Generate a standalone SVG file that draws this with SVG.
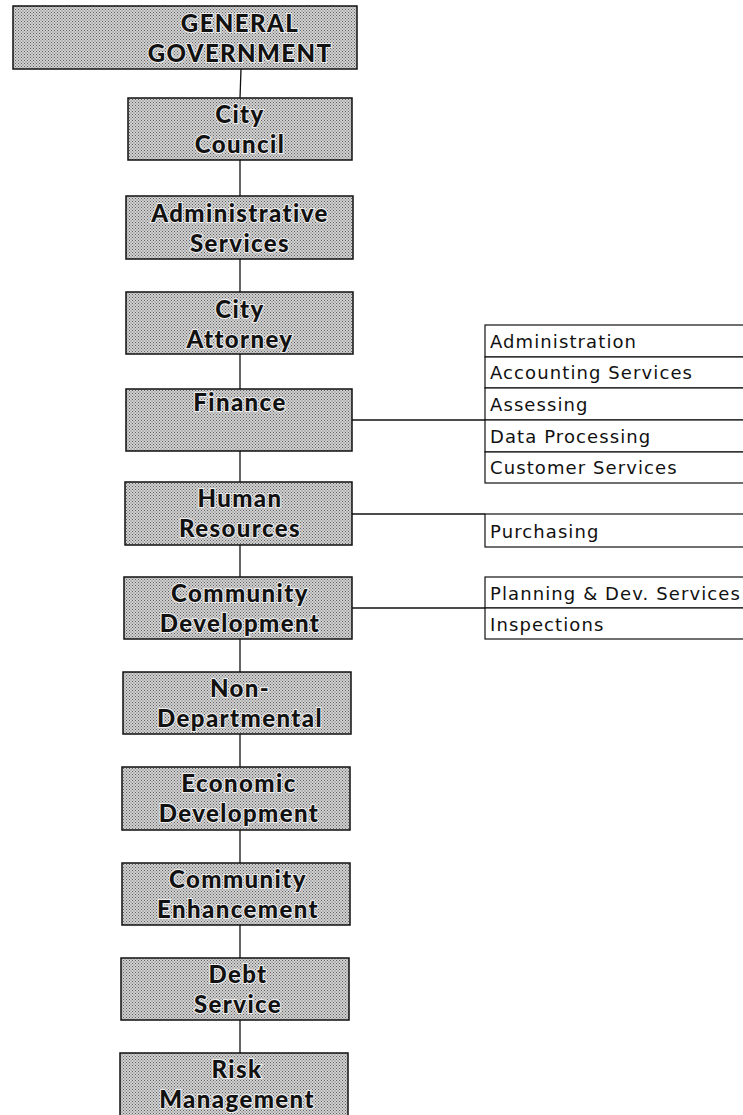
<svg xmlns="http://www.w3.org/2000/svg" width="743" height="1115" viewBox="0 0 743 1115">
  <defs>
    <!-- halftone screen used as the department box fill -->
    <pattern id="screen" width="3" height="3" patternUnits="userSpaceOnUse">
      <rect width="3" height="3" fill="#d2d2d2"/>
      <rect x="0" y="0" width="1" height="1" fill="#5e5e5e"/>
      <rect x="1.5" y="1.5" width="1" height="1" fill="#5e5e5e"/>
    </pattern>
    <style>
      .dept rect { fill: url(#screen); stroke: #111; stroke-width: 1.5; }
      .dept text { font-family: Lato, "Open Sans", sans-serif; font-weight: 900; font-size: 24px; letter-spacing: 1.4px; fill: #111; text-anchor: middle; stroke: #ececec; stroke-width: 2.2; paint-order: stroke; }
      .unit rect { fill: #fff; stroke: #111; stroke-width: 1.2; }
      .unit text { font-family: "DejaVu Sans", "Open Sans", sans-serif; font-size: 18px; letter-spacing: 1.1px; fill: #111; }
      .links line { stroke: #111; stroke-width: 1.3; }
    </style>
  </defs>
  <rect width="743" height="1115" fill="#fff"/>

  <!-- connectors -->
  <g class="links">
    <line x1="241" y1="69" x2="240" y2="98"/>
    <line x1="240" y1="160" x2="240" y2="196"/>
    <line x1="240" y1="259" x2="240" y2="292"/>
    <line x1="240" y1="354" x2="240" y2="389"/>
    <line x1="240" y1="451" x2="240" y2="482"/>
    <line x1="240" y1="545" x2="240" y2="577"/>
    <line x1="240" y1="639" x2="240" y2="672"/>
    <line x1="240" y1="734" x2="240" y2="767"/>
    <line x1="240" y1="830" x2="240" y2="863"/>
    <line x1="240" y1="925" x2="240" y2="958"/>
    <line x1="240" y1="1020" x2="240" y2="1053"/>
    <line x1="352" y1="420" x2="485" y2="420"/>
    <line x1="352" y1="514" x2="485" y2="514"/>
    <line x1="352" y1="608" x2="485" y2="608"/>
  </g>

  <g id="general-government" class="dept">
    <rect x="13" y="6" width="344" height="63"/>
    <text x="240" y="32">GENERAL</text>
    <text x="240" y="62">GOVERNMENT</text>
  </g>
  <g id="city-council" class="dept">
    <rect x="128" y="98" width="224" height="62"/>
    <text x="240" y="123">City</text>
    <text x="240" y="153">Council</text>
  </g>
  <g id="administrative-services" class="dept">
    <rect x="126" y="196" width="227" height="63"/>
    <text x="240" y="222">Administrative</text>
    <text x="240" y="252">Services</text>
  </g>
  <g id="city-attorney" class="dept">
    <rect x="126" y="292" width="227" height="62"/>
    <text x="240" y="318">City</text>
    <text x="240" y="348">Attorney</text>
  </g>
  <g id="finance" class="dept">
    <rect x="126" y="389" width="226" height="62"/>
    <text x="240" y="411">Finance</text>
  </g>
  <g id="human-resources" class="dept">
    <rect x="125" y="482" width="227" height="63"/>
    <text x="240" y="507">Human</text>
    <text x="240" y="537">Resources</text>
  </g>
  <g id="community-development" class="dept">
    <rect x="124" y="577" width="228" height="62"/>
    <text x="240" y="602">Community</text>
    <text x="240" y="632">Development</text>
  </g>
  <g id="non-departmental" class="dept">
    <rect x="123" y="672" width="228" height="62"/>
    <text x="240" y="697">Non-</text>
    <text x="240" y="727">Departmental</text>
  </g>
  <g id="economic-development" class="dept">
    <rect x="122" y="767" width="228" height="63"/>
    <text x="239" y="792">Economic</text>
    <text x="239" y="822">Development</text>
  </g>
  <g id="community-enhancement" class="dept">
    <rect x="122" y="863" width="228" height="62"/>
    <text x="238" y="888">Community</text>
    <text x="238" y="918">Enhancement</text>
  </g>
  <g id="debt-service" class="dept">
    <rect x="121" y="958" width="228" height="62"/>
    <text x="238" y="983">Debt</text>
    <text x="238" y="1013">Service</text>
  </g>
  <g id="risk-management" class="dept">
    <rect x="120" y="1053" width="228" height="70"/>
    <text x="237" y="1078">Risk</text>
    <text x="237" y="1108">Management</text>
  </g>

  <g id="finance-units" class="unit">
    <rect x="485" y="325" width="262" height="32"/>
    <rect x="485" y="357" width="262" height="31"/>
    <rect x="485" y="388" width="262" height="32"/>
    <rect x="485" y="420" width="262" height="32"/>
    <rect x="485" y="452" width="262" height="31"/>
    <text x="490" y="348">Administration</text>
    <text x="490" y="379">Accounting Services</text>
    <text x="490" y="411">Assessing</text>
    <text x="490" y="443">Data Processing</text>
    <text x="490" y="474">Customer Services</text>
  </g>
  <g id="human-resources-units" class="unit">
    <rect x="485" y="514" width="262" height="33"/>
    <text x="490" y="538">Purchasing</text>
  </g>
  <g id="community-development-units" class="unit">
    <rect x="485" y="577" width="262" height="31"/>
    <rect x="485" y="608" width="262" height="31"/>
    <text x="490" y="600">Planning &amp; Dev. Services</text>
    <text x="490" y="631">Inspections</text>
  </g>
</svg>
